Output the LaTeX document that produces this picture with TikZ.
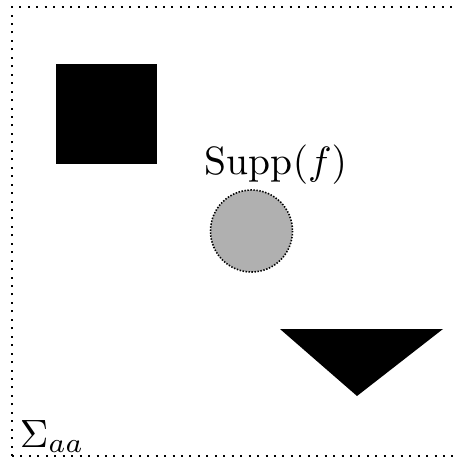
\documentclass[tikz,border=0pt]{standalone}
\begin{document}
\begin{tikzpicture}[x=1pt,y=-1pt,
  frame/.style={line width=2pt,dash pattern=on 2pt off 6.45pt},
  blob/.style={fill=black},
  supp/.style={fill=black!31,draw=black,line width=1.6pt,dash pattern=on 1.4pt off 1.6pt},
  lab/.style={scale=3.95,inner sep=0pt}]
\useasboundingbox (0,0) rectangle (457,462);
\draw[frame] (12,456) -- (12,7) -- (455,7);
\draw[frame] (12,456) -- (455,456);
\fill[blob] (56,64) rectangle (157,164);
\coordinate (suppc) at (251.5,231);
\draw[supp] (suppc) circle (41);
\node[lab,anchor=base] (supplab) at (276,175) {Supp$(f)$};
\fill[blob] (280,329) -- (443,329) -- (357,396) -- cycle;
\node[lab,anchor=base west] (sigma) at (19,447) {$\Sigma_{aa}$};
\end{tikzpicture}
\end{document}
